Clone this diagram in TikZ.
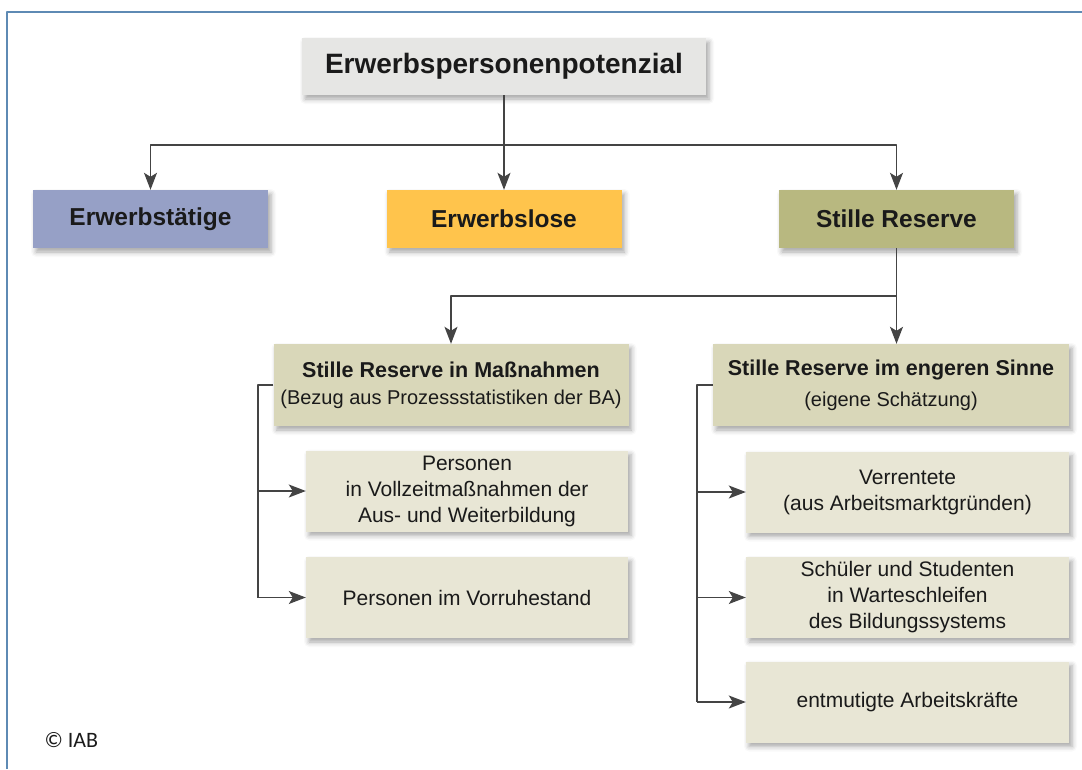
\documentclass[tikz,border=0pt]{standalone}
\usepackage{fontspec}
\setmainfont{Liberation Sans}
\newfontfamily\iabfont{Carlito}
\usetikzlibrary{arrows.meta,shadows.blur}

\definecolor{topgray}{HTML}{E6E6E4}
\definecolor{erwtblue}{HTML}{96A0C6}
\definecolor{erwlgold}{HTML}{FFC44C}
\definecolor{stilleolive}{HTML}{B8B880}
\definecolor{midbeige}{HTML}{D9D7B9}
\definecolor{leafbeige}{HTML}{E8E6D5}
\definecolor{frameblue}{HTML}{5E8AB4}
\definecolor{linegray}{HTML}{444444}
\definecolor{textdark}{HTML}{1A1A1A}

\begin{document}
\begin{tikzpicture}[x=1pt, y=-1pt, line join=round, >={Stealth[length=17pt,width=13pt,inset=4pt]},
    box/.style={inner sep=0pt, align=center, text=textdark,
      blur shadow={shadow xshift=3pt, shadow yshift=-4pt, shadow blur radius=5pt, shadow opacity=35}},
    topbox/.style={box, fill=topgray, minimum width=404pt, minimum height=57pt,
      font=\fontsize{28}{32}\selectfont\bfseries},
    mainbox/.style={box, minimum width=235pt, minimum height=58pt,
      font=\fontsize{24.5}{28}\selectfont\bfseries},
    midbox/.style={box, fill=midbeige, minimum width=355pt, minimum height=82pt},
    leafbox/.style={box, fill=leafbeige, minimum width=323pt, minimum height=81pt,
      font=\fontsize{21}{26}\selectfont},
    conn/.style={draw=linegray, line width=1.4pt}]
  \useasboundingbox (0,0) rectangle (1082,769);
  % Rahmen
  \draw[frameblue, line width=2pt] (7,769) -- (7,12) -- (1082,12);

  % oberste Ebenen
  \node[topbox] (pot) at (504,66.5) {Erwerbspersonenpotenzial};
  \node[mainbox, fill=erwtblue] (erwt) at (150.5,219) {Erwerbstätige};
  \node[mainbox, fill=erwlgold] (erwl) at (504,219) {Erwerbslose};
  \node[mainbox, fill=stilleolive] (stille) at (896.5,219) {Stille Reserve};

  % Stille Reserve
  \node[midbox] (massn) at (451,385)
    {{\fontsize{21.5}{26}\selectfont\bfseries Stille Reserve in Maßnahmen}\\[11pt]
     {\fontsize{20}{24}\selectfont (Bezug aus Prozessstatistiken der BA)}};
  \node[midbox, minimum width=356pt] (enger) at (891,385)
    {{\fontsize{21.5}{26}\selectfont\bfseries Stille Reserve im engeren Sinne}\\[11pt]
     {\fontsize{20}{24}\selectfont (eigene Schätzung)}};

  \node[leafbox, minimum width=322pt] (vollz) at (467,491)
    {Personen\\ in Vollzeitmaßnahmen der\\ Aus- und Weiterbildung};
  \node[leafbox, minimum width=322pt] (vorr) at (467,597.5) {Personen im Vorruhestand};
  \node[leafbox] (verr) at (907.5,492) {Verrentete\\ (aus Arbeitsmarktgründen)};
  \node[leafbox] (schuel) at (907.5,597.5)
    {Schüler und Studenten\\ in Warteschleifen\\ des Bildungssystems};
  \node[leafbox] (entm) at (907.5,702) {entmutigte Arbeitskräfte};

  \node[font=\iabfont\fontsize{22}{26}\selectfont, text=textdark, anchor=west] (iab) at (41,740) {© IAB};

  % Verbindungen
  \coordinate (j1) at (504,145);
  \draw[conn] (pot.south) -- (j1);
  \draw[conn,->] (j1) -| (erwt.north);
  \draw[conn,->] (j1) -- (erwl.north);
  \draw[conn,->] (j1) -| (stille.north);

  \coordinate (j2) at (896.5,296);
  \draw[conn] (stille.south) -- (j2);
  \draw[conn,->] (j2) -| (massn.north);
  \draw[conn,->] (j2) -- (j2 |- enger.north);

  \coordinate (l1) at (258,385);
  \draw[conn] (massn.west) -- (l1) -- (l1 |- vorr);
  \draw[conn,->] (l1 |- vollz) -- (vollz.west);
  \draw[conn,->] (l1 |- vorr) -- (vorr.west);

  \coordinate (r1) at (697,385);
  \draw[conn] (enger.west) -- (r1) -- (r1 |- entm);
  \draw[conn,->] (r1 |- verr) -- (verr.west);
  \draw[conn,->] (r1 |- schuel) -- (schuel.west);
  \draw[conn,->] (r1 |- entm) -- (entm.west);
\end{tikzpicture}
\end{document}
